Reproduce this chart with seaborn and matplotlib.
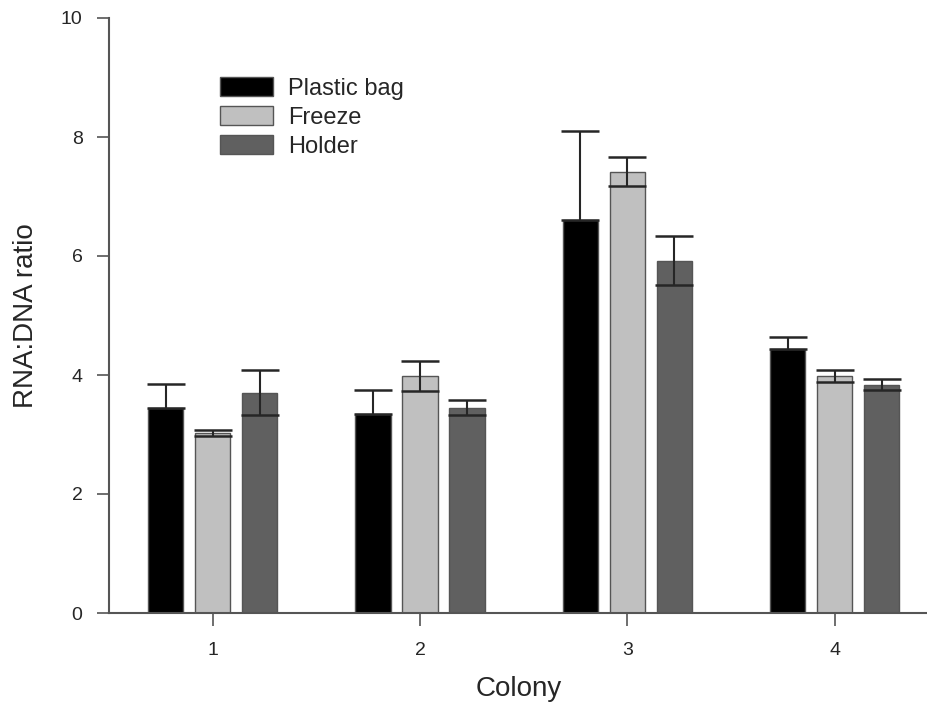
import matplotlib
matplotlib.use("Agg")
import matplotlib.pyplot as plt
import seaborn as sns
import pandas as pd
import numpy as np

colonies = ["1", "2", "3", "4"]
treatments = ["Plastic bag", "Freeze", "Holder"]
plastic_bag = [3.45, 3.34, 6.60, 4.44]
freeze = [3.03, 3.98, 7.42, 3.98]
holder = [3.70, 3.45, 5.92, 3.84]
plastic_bag_err = [0.40, 0.40, 1.50, 0.20]
freeze_err = [0.05, 0.25, 0.24, 0.10]
holder_err = [0.38, 0.13, 0.41, 0.10]
colors = ["#000000", "#c0c0c0", "#606060"]

values = [plastic_bag, freeze, holder]
errors = [plastic_bag_err, freeze_err, holder_err]

rows = []
for t, vals in zip(treatments, values):
    for c, v in zip(colonies, vals):
        rows.append({"Colony": c, "Treatment": t, "Ratio": v})
df = pd.DataFrame(rows)

sns.set_style("white")
plt.rcParams["font.family"] = ["Liberation Sans", "DejaVu Sans"]

fig = plt.figure(figsize=(9.28, 7.13), dpi=100)
ax = fig.add_axes([109/928, 100/713, 819/928, 595/713])

sns.barplot(data=df, x="Colony", y="Ratio", hue="Treatment",
            order=colonies, hue_order=treatments, palette=colors,
            width=0.68, gap=0.25, errorbar=None, ax=ax,
            edgecolor="#555555", linewidth=1.0, saturation=1)

for cont, errs, col in zip(ax.containers, errors, colors):
    xs = [b.get_x() + b.get_width() / 2 for b in cont]
    hs = [b.get_height() for b in cont]
    if col == "#000000":
        yerr = [np.zeros(len(errs)), errs]
    else:
        yerr = errs
    ax.errorbar(xs, hs, yerr=yerr, fmt="none", ecolor="#262626",
                elinewidth=1.5, capsize=14, capthick=1.8, zorder=5)

ax.set_xlim(-0.5, 3.45)
ax.set_ylim(0, 10)
ax.set_yticks([0, 2, 4, 6, 8, 10])
sns.despine(ax=ax)
for s in ["left", "bottom"]:
    ax.spines[s].set_color("#555555")
    ax.spines[s].set_linewidth(1.5)
ax.tick_params(axis="both", which="both", direction="out", length=9,
               width=1.2, color="#555555", labelsize=14, left=True, bottom=True)
ax.tick_params(axis="x", pad=12)
ax.tick_params(axis="y", pad=10)
ax.set_xlabel("Colony", fontsize=20, labelpad=12)
ax.set_ylabel("RNA:DNA ratio", fontsize=20, labelpad=16)

leg = ax.legend(loc="upper left", bbox_to_anchor=(0.135, 0.9), frameon=False,
                fontsize=17, handlelength=2.25, handleheight=0.85,
                handletextpad=0.64, labelspacing=0.26, borderpad=0, borderaxespad=0)

fig.savefig("out.png", dpi=100)
